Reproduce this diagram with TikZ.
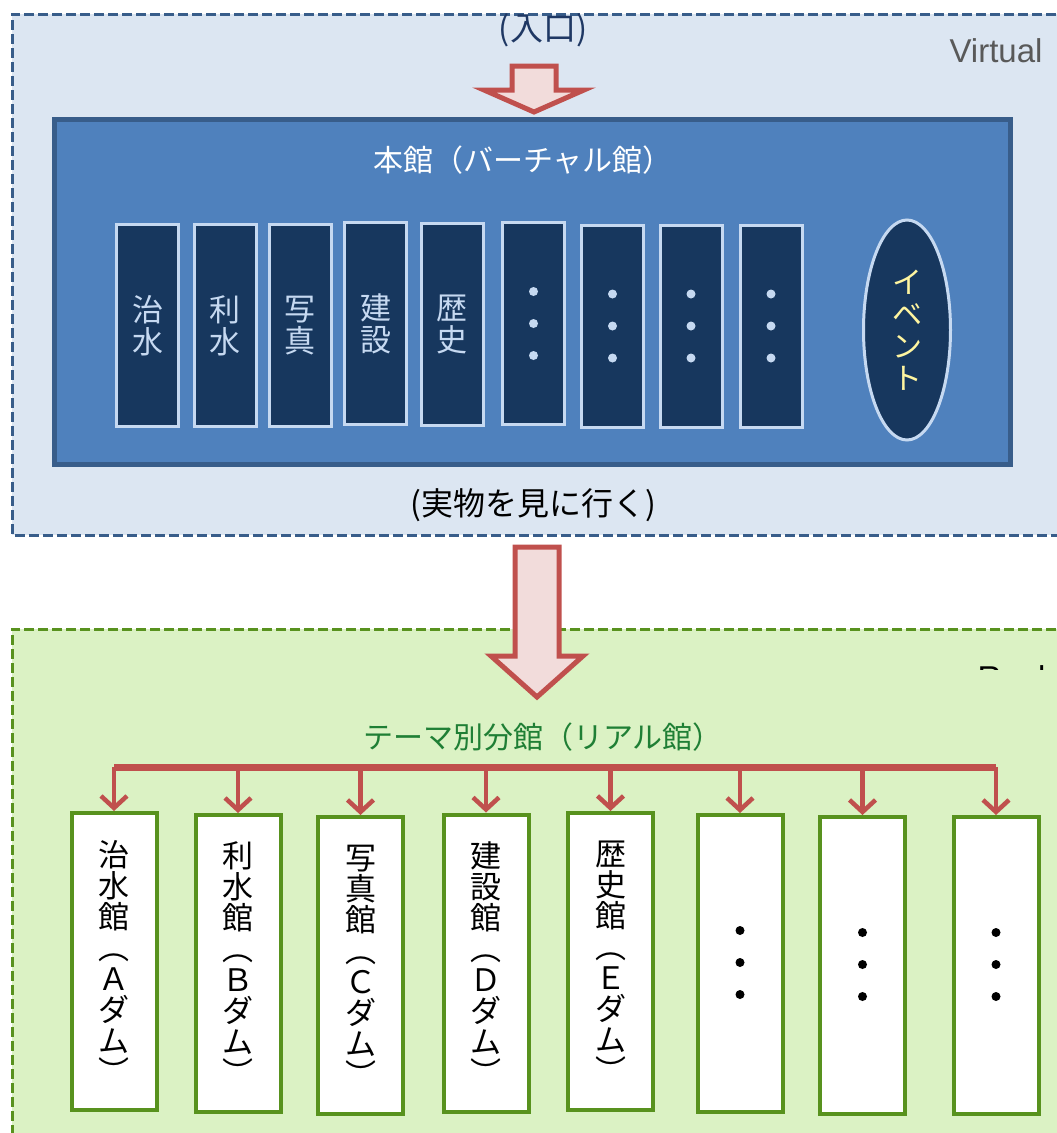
\documentclass[tikz,border=0pt]{standalone}
\usepackage{fontspec}
\setmainfont{Liberation Sans}
\newfontfamily\jp{Noto Sans CJK JP}
\usetikzlibrary{shapes.geometric,arrows.meta}

\definecolor{virtfill}{HTML}{DCE6F2}
\definecolor{virtline}{HTML}{385D8A}
\definecolor{hallfill}{HTML}{4F81BD}
\definecolor{roomfill}{HTML}{17375E}
\definecolor{roomline}{HTML}{C6D9F1}
\definecolor{realfill}{HTML}{DBF2C4}
\definecolor{realline}{HTML}{58921E}
\definecolor{realtext}{HTML}{1F7F35}
\definecolor{arrline}{HTML}{C0504D}
\definecolor{arrfill}{HTML}{F2DCDB}
\definecolor{eventtext}{HTML}{FFF5A0}
\definecolor{navytext}{HTML}{1F3864}

\tikzset{
  room/.style={draw=roomline, fill=roomfill, line width=3pt, minimum width=62pt, minimum height=202pt,
    inner sep=0pt, text=roomline, align=center, font=\jp\fontsize{31}{32}\selectfont},
  branch/.style={draw=realline, fill=white, line width=4pt, minimum width=85pt, minimum height=297pt,
    inner sep=0pt, align=center, font=\jp\fontsize{31}{31}\selectfont},
  arealine/.style={line width=3pt, dash pattern=on 10pt off 4pt},
  blockarrow/.style={draw=arrline, fill=arrfill, line width=5pt, line join=miter},
  bus/.style={draw=arrline, line width=7pt},
  drop/.style={draw=arrline, line width=4.5pt, -{Straight Barb[length=12pt,width=26pt]}},
}

\begin{document}
\begin{tikzpicture}[x=1pt,y=-1pt]
    \useasboundingbox (0,0) rectangle (1057,1133);
    % virtual
    \fill[virtfill] (12,14) rectangle (1070,535);
    \draw[virtline, arealine] (1070,14) -- (12,14) -- (12,535) -- (1070,535);
    \node[text=navytext, font=\jp\fontsize{33}{33}\selectfont] (entry) at (543,30) {(入口)};
    \node[anchor=base east, text=black!65, font=\fontsize{33}{33}\selectfont] (virtual) at (1046,62) {Virtual};
    \draw[blockarrow] (512,66) -- (556,66) -- (556,90) -- (584,90) -- (534,112) -- (484,90) -- (512,90) -- cycle;

    \node[draw=virtline, fill=hallfill, line width=5pt, minimum width=956pt, minimum height=345pt] (hall) at (532.5,292) {};
    \node[text=white, font=\jp\fontsize{30}{30}\selectfont] (hallname) at (523,160) {本館（バーチャル館）};

    \node[room] (r1) at (147.5,325.5) {治\\水};
    \node[room] (r2) at (225,325.5) {利\\水};
    \node[room] (r3) at (300,325.5) {写\\真};
    \node[room] (r4) at (375.5,323.5) {建\\設};
    \node[room] (r5) at (452,324) {歴\\史};
    \node[room] (r6) at (533.5,323.5) {};
    \node[room] (r7) at (612.5,326) {};
    \node[room] (r8) at (691,326) {};
    \node[room] (r9) at (771,326) {};
    \fill[roomline] (r6.center) circle (4.5pt) ++(0,-32) circle (4.5pt) ++(0,64) circle (4.5pt);
    \fill[roomline] (r7.center) circle (4.5pt) ++(0,-32) circle (4.5pt) ++(0,64) circle (4.5pt);
    \fill[roomline] (r8.center) circle (4.5pt) ++(0,-32) circle (4.5pt) ++(0,64) circle (4.5pt);
    \fill[roomline] (r9.center) circle (4.5pt) ++(0,-32) circle (4.5pt) ++(0,64) circle (4.5pt);
    \node[ellipse, draw=roomline, fill=roomfill, line width=3pt, minimum width=87pt, minimum height=220pt,
      inner sep=0pt, text=eventtext, align=center, font=\jp\fontsize{30}{32}\selectfont] (event) at (907,330) {イ\\ベ\\ン\\ト};

    \node[font=\jp\fontsize{32}{32}\selectfont] (exit) at (533,505) {(実物を見に行く)};

    % real
    \fill[realfill] (12,629) rectangle (1070,1140);
    \draw[realline, arealine] (1070,629) -- (12,629) -- (12,1140);
    \begin{scope}
        \clip (900,655) rectangle (1057,669);
        \node[anchor=base east, font=\fontsize{33}{33}\selectfont] (real) at (1049,689) {Real};
    \end{scope}
    \draw[blockarrow] (515,547) -- (559,547) -- (559,656) -- (583,656) -- (537,697) -- (491,656) -- (515,656) -- cycle;
    \node[text=realtext, font=\jp\fontsize{30}{30}\selectfont] (realname) at (543,737) {テーマ別分館（リアル館）};

    \node[branch] (b1) at (114,961.5) {治\\水\\館\\︵\\Ａ\\ダ\\ム\\︶};
    \node[branch] (b2) at (238,963.5) {利\\水\\館\\︵\\Ｂ\\ダ\\ム\\︶};
    \node[branch] (b3) at (360.5,965.5) {写\\真\\館\\︵\\Ｃ\\ダ\\ム\\︶};
    \node[branch] (b4) at (486,963) {建\\設\\館\\︵\\Ｄ\\ダ\\ム\\︶};
    \node[branch] (b5) at (610.5,961.5) {歴\\史\\館\\︵\\Ｅ\\ダ\\ム\\︶};
    \node[branch] (b6) at (740,963.5) {};
    \node[branch] (b7) at (862.5,965.5) {};
    \node[branch] (b8) at (996,965.5) {};
    \fill (b6.center) ++(0,-1) circle (4.5pt) ++(0,-32) circle (4.5pt) ++(0,64) circle (4.5pt);
    \fill (b7.center) ++(0,-1) circle (4.5pt) ++(0,-32) circle (4.5pt) ++(0,64) circle (4.5pt);
    \fill (b8.center) ++(0,-1) circle (4.5pt) ++(0,-32) circle (4.5pt) ++(0,64) circle (4.5pt);

    \coordinate (busline) at (0,767);
    \draw[bus] (b1.north |- busline) -- (b8.north |- busline);
    \draw[drop] (b1.north |- busline) -- (b1.north);
    \draw[drop] (b2.north |- busline) -- (b2.north);
    \draw[drop] (b3.north |- busline) -- (b3.north);
    \draw[drop] (b4.north |- busline) -- (b4.north);
    \draw[drop] (b5.north |- busline) -- (b5.north);
    \draw[drop] (b6.north |- busline) -- (b6.north);
    \draw[drop] (b7.north |- busline) -- (b7.north);
    \draw[drop] (b8.north |- busline) -- (b8.north);
\end{tikzpicture}
\end{document}
